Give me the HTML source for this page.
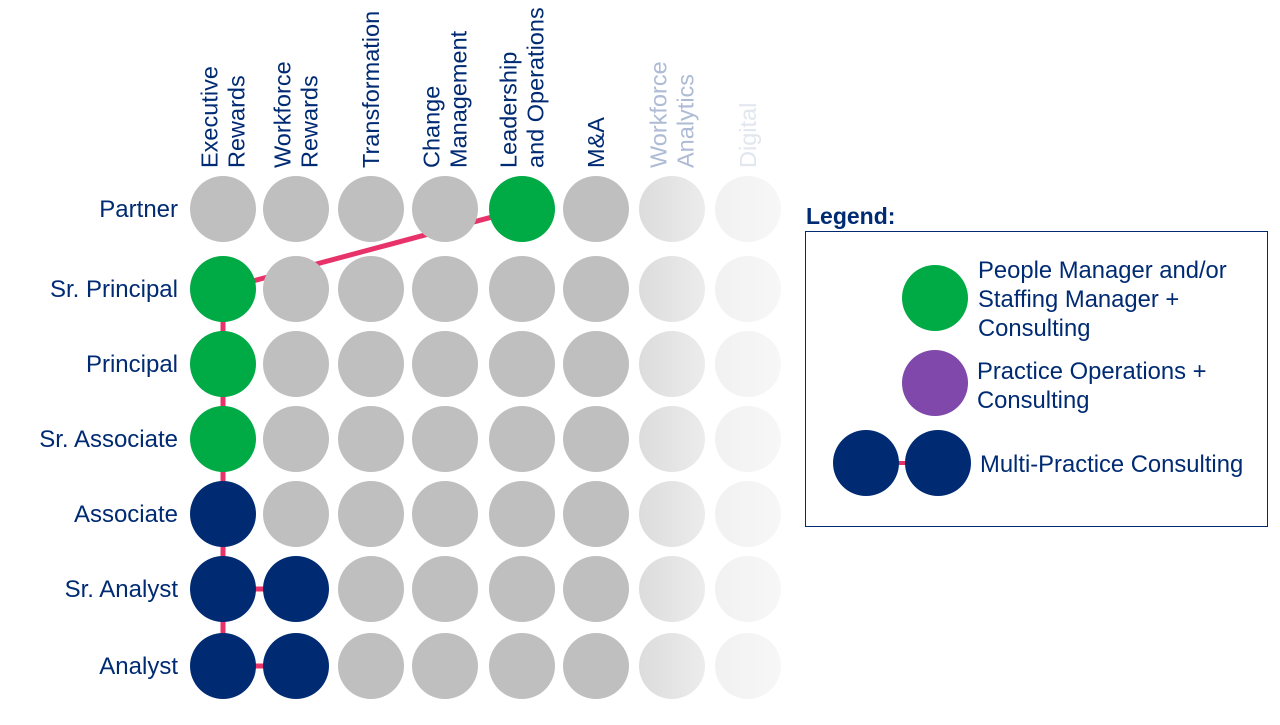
<!DOCTYPE html>
<html><head><meta charset="utf-8"><style>
body{margin:0;background:#fff;width:1280px;height:720px;overflow:hidden;font-family:"Liberation Sans",Arial,sans-serif}
svg text{font-family:"Liberation Sans",Arial,sans-serif}
</style></head><body>
<svg id="chart" width="1280" height="720" viewBox="0 0 1280 720" xmlns="http://www.w3.org/2000/svg">
<defs>
<linearGradient id="gWA" x1="0" x2="1" y1="0" y2="0"><stop offset="0" stop-color="#dcdcdc"/><stop offset="1" stop-color="#ececec"/></linearGradient>
<linearGradient id="gDG" x1="0" x2="1" y1="0" y2="0"><stop offset="0" stop-color="#f1f1f1"/><stop offset="1" stop-color="#f7f7f7"/></linearGradient>
</defs>
<g id="paths"></g>
<g id="cells"></g>
<g id="collabels"></g>
<g id="rowlabels"></g>
<g>
<text x="806" y="224" font-size="23" font-weight="bold" fill="#002b73">Legend:</text>
<rect x="805.5" y="231.5" width="462" height="295" fill="none" stroke="#002b73" stroke-width="1"/>
<circle cx="935" cy="298" r="33" fill="#00aa44"/>
<text font-size="23.8" fill="#002b73"><tspan x="978" y="278">People Manager and/or</tspan><tspan x="978" y="307">Staffing Manager +</tspan><tspan x="978" y="336">Consulting</tspan></text>
<circle cx="935" cy="383" r="33" fill="#7f48aa"/>
<text font-size="23.8" fill="#002b73"><tspan x="977" y="379">Practice Operations +</tspan><tspan x="977" y="408">Consulting</tspan></text>
<line x1="866" y1="463" x2="938" y2="463" stroke="#e8336a" stroke-width="4"/>
<circle cx="866" cy="463" r="33" fill="#002b73"/>
<circle cx="938" cy="463" r="33" fill="#002b73"/>
<text x="980" y="472" font-size="23.8" fill="#002b73">Multi-Practice Consulting</text>
</g>
</svg>
<script>
const columns = [["Executive","Rewards"],["Workforce","Rewards"],["Transformation"],["Change","Management"],["Leadership","and Operations"],["M&A"],["Workforce","Analytics"],["Digital"]];
const rows = ["Partner","Sr. Principal","Principal","Sr. Associate","Associate","Sr. Analyst","Analyst"];
// cell state: g=gray, G=green, N=navy, a=analytics faded, d=digital faded
const cellStates = [
 ["g","g","g","g","G","g","a","d"],
 ["G","g","g","g","g","g","a","d"],
 ["G","g","g","g","g","g","a","d"],
 ["G","g","g","g","g","g","a","d"],
 ["N","g","g","g","g","g","a","d"],
 ["N","N","g","g","g","g","a","d"],
 ["N","N","g","g","g","g","a","d"]
];
// career path connections as [row, col] pairs
const pathLinks = [[[6,0],[5,0]],[[5,0],[4,0]],[[4,0],[3,0]],[[3,0],[2,0]],[[2,0],[1,0]],[[1,0],[0,4]],[[5,0],[5,1]],[[6,0],[6,1]]];
const colX = [223,296,371,445,522,596,672,748];
const rowY = [209,289,364,439,514,589,666];
const x = c => colX[c], y = r => rowY[r];
const NS="http://www.w3.org/2000/svg";
const fills={g:"#bfbfbf",G:"#00aa44",N:"#002b73",a:"url(#gWA)",d:"url(#gDG)"};
const labelColors=["#002b73","#002b73","#002b73","#002b73","#002b73","#002b73","#aebbd5","#e2e6ee"];
const P=document.getElementById("paths");
pathLinks.forEach(l=>{
 const e=document.createElementNS(NS,"line");
 
 
 e.setAttribute("x1",x(l[0][1]));e.setAttribute("y1",y(l[0][0]));
 e.setAttribute("x2",x(l[1][1]));e.setAttribute("y2",y(l[1][0]));
 e.setAttribute("stroke","#e8336a");e.setAttribute("stroke-width","5");
 P.appendChild(e);
});
const C=document.getElementById("cells");
cellStates.forEach((row,r)=>row.forEach((s,c)=>{
 const e=document.createElementNS(NS,"circle");
 
 
 e.setAttribute("cx",x(c));e.setAttribute("cy",y(r));e.setAttribute("r","33");
 e.setAttribute("fill",fills[s]);C.appendChild(e);
}));
const CL=document.getElementById("collabels");
columns.forEach((lines,c)=>{
 const t=document.createElementNS(NS,"text");
 
 
 t.setAttribute("font-size","23.5");t.setAttribute("fill",labelColors[c]);
 const n=lines.length, lh=27;
 const bx=x(c)-(n-1)*lh/2+8;
 t.setAttribute("transform","translate("+bx+",168) rotate(-90)");
 lines.forEach((ln,i)=>{const ts=document.createElementNS(NS,"tspan");ts.setAttribute("x","0");ts.setAttribute("y",String(i*lh));ts.textContent=ln;t.appendChild(ts);});
 CL.appendChild(t);
});
const RL=document.getElementById("rowlabels");
rows.forEach((name,r)=>{
 const t=document.createElementNS(NS,"text");
 
 
 t.setAttribute("x","178");t.setAttribute("y",y(r)+8);t.setAttribute("text-anchor","end");
 t.setAttribute("font-size","24");t.setAttribute("fill","#002b73");t.textContent=name;RL.appendChild(t);
});
</script>
</body></html>
